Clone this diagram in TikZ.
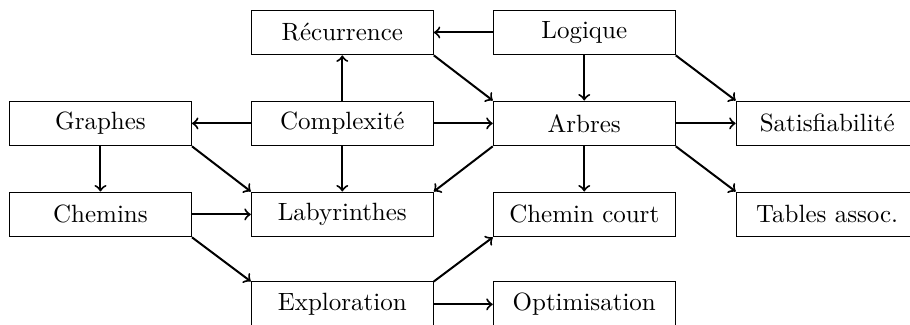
\documentclass[tikz,border=0pt]{standalone}
\usepackage{tikz}

\begin{document}
\begin{tikzpicture}
  \tikzset{
    boite/.style={draw,rectangle,minimum width=2.56cm,minimum height=0.63cm,inner sep=0pt},
    fl/.style={->,thick}}
  \clip(0,0) rectangle (12.80,-4.57);
      \node[boite](rec) at (4.815,-0.457){Récurrence};
      \node[boite](log) at (8.218,-0.457){Logique};
        \node[boite](gra) at (1.413,-1.736){Graphes};
        \node[boite](com) at (4.815,-1.736){Complexité};
        \node[boite](arb) at (8.218,-1.736){Arbres};
        \node[boite](sat) at (11.635,-1.736){Satisfiabilité};
                \node[boite](che) at (1.413,-3.016){Chemins};
                \node[boite](lab) at (4.815,-3.016){Labyrinthes};
                \node[boite](cco) at (8.218,-3.016){Chemin court};
                \node[boite](tab) at (11.635,-3.016){Tables assoc.};
                \node[boite](exp) at (4.815,-4.281){Exploration};
                \node[boite](opt) at (8.218,-4.281){Optimisation};

          \draw[fl](log)--(rec);
          \draw[fl](log)--(arb);
          \draw[fl](log.south east)--(sat.north west);
          \draw[fl](rec.south east)--(arb.north west);
          \draw[fl](com)--(rec);
          \draw[fl](com)--(gra);
          \draw[fl](com)--(arb);
          \draw[fl](com)--(lab);
          \draw[fl](arb)--(sat);
          \draw[fl](arb)--(cco);
          \draw[fl](arb.south west)--(lab.north east);
          \draw[fl](arb.south east)--(tab.north west);
  \draw[fl](gra)--(che);
  \draw[fl](gra.south east)--(lab.north west);
  \draw[fl](che)--(lab);
  \draw[fl](che.south east)--(exp.north west);
  \draw[fl](exp.north east)--(cco.south west);
  \draw[fl](exp)--(opt);

\end{tikzpicture}
\end{document}
